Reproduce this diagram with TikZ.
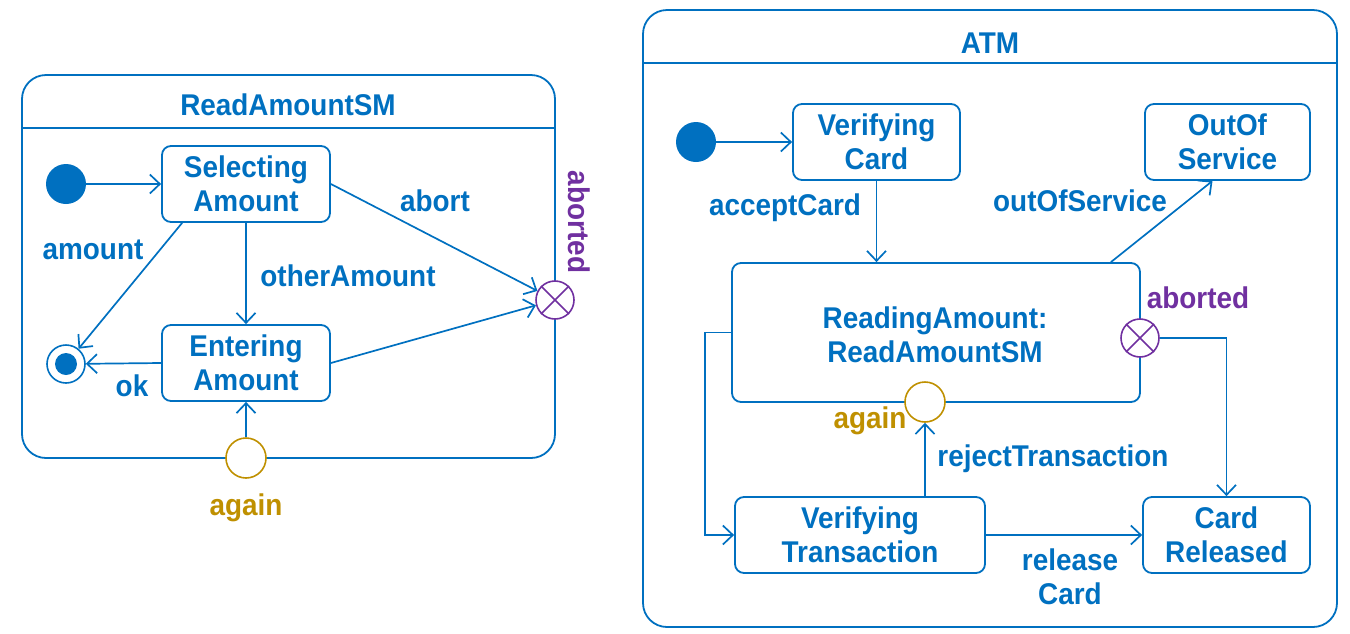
\documentclass[tikz,border=0pt]{standalone}
\usepackage{fontspec}
\setmainfont{Liberation Sans}[FakeStretch=0.93]
\usetikzlibrary{arrows.meta,calc}
\definecolor{umlblue}{RGB}{0,112,192}
\definecolor{umlpurple}{RGB}{112,48,160}
\definecolor{umlgold}{RGB}{191,144,0}
\begin{document}
\begin{tikzpicture}[x=1pt,y=-1pt,
  every node/.style={font=\bfseries\fontsize{30}{34}\selectfont, text=umlblue, inner sep=0pt},
  statebox/.style={draw=umlblue, line width=1.8pt, rounded corners=9pt, align=center},
  initdot/.style={circle, fill=umlblue, minimum size=40pt},
  tr/.style={draw=umlblue, line width=1.7pt, -{Straight Barb[length=10pt,width=19pt]}},
  frame/.style={draw=umlblue, line width=1.8pt, rounded corners=24pt},
  exitpt/.style={circle, draw=umlpurple, line width=1.6pt, fill=white, minimum size=38pt},
  entrypt/.style={circle, draw=umlgold, line width=1.6pt, fill=white, minimum size=40pt},
  lbl/.style={align=center}
]
\useasboundingbox (0,0) rectangle (1350,633);

% ---------------- ReadAmountSM ----------------
\draw[frame] (22,75) rectangle (555,458);
\draw[draw=umlblue, line width=1.8pt] (22,128) -- (555,128);
\node (t1) at (288,105) {ReadAmountSM};

\node[initdot] (i1) at (66,184) {};
\node[statebox, minimum width=168pt, minimum height=76pt] (sel) at (246,184) {Selecting\\Amount};
\node[statebox, minimum width=168pt, minimum height=76pt] (ent) at (246,363) {Entering\\Amount};
\node[circle, draw=umlblue, line width=1.6pt, minimum size=38pt] (fin) at (66,364) {};
\node[circle, fill=umlblue, minimum size=22pt] (finin) at (66,364) {};
\node[exitpt] (ab1) at (555,300) {};
\draw[umlpurple, line width=1.6pt] (ab1.north west) -- (ab1.south east) (ab1.north east) -- (ab1.south west);
\node[entrypt] (ag1) at (246,458) {};

\node[text=umlpurple, rotate=-90] (ab1l) at (579,222) {aborted};
\node[text=umlgold] (ag1l) at (246,508) {again};

\draw[tr] (i1.east) -- (sel.west);
\draw[tr] ($(sel.south west)+(21,0)$) -- (fin);
\draw[tr] (sel.south) -- (ent.north);
\draw[tr] (sel.east) -- (ab1);
\draw[tr] (ent.east) -- (ab1);
\draw[tr] (ent.west) -- (fin);
\draw[tr] (ag1) -- (ent.south);

\node (l1) at (93,250) {amount};
\node (l2) at (435,201) {abort};
\node (l3) at (348,276) {otherAmount};
\node (l4) at (132,386) {ok};

% ---------------- ATM ----------------
\draw[frame] (643,10) rectangle (1337,627);
\draw[draw=umlblue, line width=1.8pt] (643,63) -- (1337,63);
\node (t2) at (990,43) {ATM};

\node[initdot] (i2) at (696,142) {};
\node[statebox, minimum width=167pt, minimum height=76pt] (vc) at (876.5,142) {Verifying\\Card};
\node[statebox, minimum width=165pt, minimum height=76pt] (oos) at (1227.5,142) {OutOf\\Service};
\node[statebox, minimum width=408pt, minimum height=139pt] (ra) at (936,332.5) {};
\node[lbl] (ral) at (935,335) {ReadingAmount:\\ReadAmountSM};
\node[statebox, minimum width=250pt, minimum height=76pt] (vt) at (860,535) {Verifying\\Transaction};
\node[statebox, minimum width=167pt, minimum height=76pt] (cr) at (1226.5,535) {Card\\Released};
\node[exitpt] (ab2) at (1140,338) {};
\draw[umlpurple, line width=1.6pt] (ab2.north west) -- (ab2.south east) (ab2.north east) -- (ab2.south west);
\node[entrypt] (ag2) at (925,402) {};

\node[text=umlpurple] (ab2l) at (1198,298) {aborted};
\node[text=umlgold] (ag2l) at (870,421) {again};

\draw[tr] (i2.east) -- (vc.west);
\draw[tr] (vc.south) -- (vc.south |- ra.north);
\draw[tr] ($(ra.north east)+(-30,0)$) -- ($(oos.south)+(-15,0)$);
\draw[tr] (ra.west) -- ++(-26,0) |- (vt.west);
\draw[tr] (vt.north -| ag2) -- (ag2);
\draw[tr] (vt.east) -- (cr.west);
\draw[tr] (ab2) -| (cr.north);

\node (l5) at (785,208) {acceptCard};
\node (l6) at (1080,201) {outOfService};
\node (l7) at (1053,459) {rejectTransaction};
\node[lbl] (l8) at (1070,577) {release\\Card};
\end{tikzpicture}
\end{document}
